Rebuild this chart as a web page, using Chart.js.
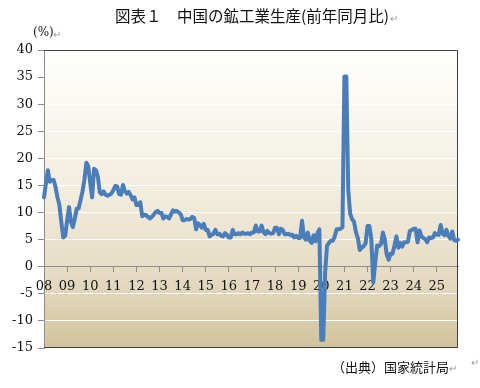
<!DOCTYPE html>
<html>
<head>
<meta charset="utf-8">
<script src="https://cdn.jsdelivr.net/npm/chart.js@4/dist/chart.umd.min.js"></script>
<style>
  html, body { margin: 0; padding: 0; background: #fff; }
  #wrap { position: relative; width: 480px; height: 388px; }
</style>
</head>
<body>
<div id="wrap"><canvas id="c" width="480" height="388"></canvas></div>
<script>
// year tick labels (one per January)
const yearLabels = ['08', '09', '10', '11', '12', '13', '14', '15', '16',
  '17', '18', '19', '20', '21', '22', '23', '24', '25'];

// industrial production, % y/y, monthly Jan 2008 - Dec 2025
const ipYoY = [
  12.8, 15.4, 17.8, 15.7, 16.0, 16.0, 14.7, 12.8, 11.4, 8.2, 5.4, 5.7,     // 08
  8.5, 11.0, 8.3, 7.3, 8.9, 10.7, 10.8, 12.3, 13.9, 16.1, 19.2, 18.5,     // 09
  15.5, 12.8, 18.1, 17.8, 16.5, 13.7, 13.4, 13.9, 13.3, 13.1, 13.3, 13.5, // 10
  14.1, 14.9, 14.8, 13.4, 13.3, 15.1, 14.0, 13.5, 13.8, 13.2, 12.4, 12.8, // 11
  11.4, 11.4, 11.9, 9.3, 9.6, 9.5, 9.2, 8.9, 9.2, 9.6, 10.1, 10.3,        // 12
  9.9, 9.9, 8.9, 9.3, 9.2, 8.9, 9.7, 10.4, 10.2, 10.3, 10.0, 9.7,         // 13
  8.6, 8.6, 8.8, 8.7, 8.8, 9.2, 9.0, 6.9, 8.0, 7.7, 7.2, 7.9,             // 14
  6.8, 6.8, 5.6, 5.9, 6.1, 6.8, 6.0, 6.1, 5.7, 5.6, 6.2, 5.9,             // 15
  5.4, 5.4, 6.8, 6.0, 6.0, 6.2, 6.0, 6.3, 6.1, 6.1, 6.2, 6.0,             // 16
  6.3, 6.3, 7.6, 6.5, 6.5, 7.6, 6.4, 6.0, 6.6, 6.2, 6.1, 6.2,             // 17
  7.2, 7.2, 6.0, 7.0, 6.8, 6.0, 6.0, 6.1, 5.8, 5.9, 5.4, 5.7,             // 18
  5.3, 5.3, 8.5, 5.4, 5.0, 6.3, 4.8, 4.4, 5.8, 4.7, 6.2, 6.9,             // 19
  -13.5, -13.5, -1.1, 3.9, 4.4, 4.8, 4.8, 5.6, 6.9, 6.9, 7.0, 7.3,       // 20
  35.1, 35.1, 14.1, 9.8, 8.8, 8.3, 6.4, 5.3, 3.1, 3.5, 3.8, 4.3,         // 21
  7.5, 7.5, 5.0, -2.9, 0.7, 3.9, 3.8, 4.2, 6.3, 5.0, 2.2, 1.3,           // 22
  2.4, 2.4, 3.9, 5.6, 3.5, 4.4, 3.7, 4.5, 4.5, 4.6, 6.6, 6.8,            // 23
  7.0, 7.0, 4.5, 6.7, 5.6, 5.3, 5.1, 4.5, 5.4, 5.3, 5.4, 6.2,            // 24
  5.9, 5.9, 7.7, 6.1, 5.8, 6.8, 5.7, 5.2, 6.5, 4.9, 4.8, 5.0             // 25
];

const yMin = -15, yMax = 40, yStep = 5;

// monthly categories, e.g. "08-01"
const months = [];
yearLabels.forEach(y => {
  for (let m = 1; m <= 12; m++) months.push(y + '-' + String(m).padStart(2, '0'));
});

const serif = "'DejaVu Serif', 'Liberation Serif', serif";
const jp = "'Noto Sans CJK JP', sans-serif";
const axisGray = '#8c8c8c';

// plot area background + frame
const plotBg = {
  id: 'plotBg',
  beforeDraw(chart) {
    const { ctx, chartArea: a } = chart;
    const g = ctx.createLinearGradient(0, a.top, 0, a.bottom);
    g.addColorStop(0, '#fffffd');
    g.addColorStop(0.45, '#f3eee0');
    g.addColorStop(0.75, '#e6dcc4');
    g.addColorStop(1, '#d2c39c');
    ctx.save();
    ctx.fillStyle = g;
    ctx.fillRect(a.left, a.top, a.right - a.left, a.bottom - a.top);
    ctx.restore();
  },
  beforeDatasetsDraw(chart) {
    const { ctx, chartArea: a } = chart;
    ctx.save();
    ctx.strokeStyle = '#404040';
    ctx.lineWidth = 1;
    ctx.beginPath();
    ctx.moveTo(a.left, a.top + 0.5);
    ctx.lineTo(a.right - 0.5, a.top + 0.5);
    ctx.lineTo(a.right - 0.5, a.bottom - 0.5);
    ctx.lineTo(a.left, a.bottom - 0.5);
    ctx.stroke();
    ctx.restore();
  }
};

// title, unit and source notes
const notes = {
  id: 'notes',
  afterDraw(chart) {
    const { ctx } = chart;
    ctx.save();
    ctx.fillStyle = '#111';
    ctx.textBaseline = 'middle';

    ctx.font = '15.5px ' + jp;
    ctx.textAlign = 'center';
    const title = '図表１　中国の鉱工業生産(前年同月比)';
    ctx.fillText(title, 252, 16);
    const tw = ctx.measureText(title).width;

    ctx.font = '12px ' + serif;
    ctx.textAlign = 'left';
    ctx.fillText('(%)', 33, 33);

    ctx.font = '13px ' + jp;
    ctx.textAlign = 'right';
    ctx.fillText('（出典）国家統計局', 449, 367);

    // paragraph marks
    ctx.fillStyle = '#9a9a9a';
    ctx.font = '10px ' + jp;
    ctx.textAlign = 'left';
    ctx.fillText('↵', 252 + tw / 2 + 1, 18);
    ctx.fillText('↵', 53, 34);
    ctx.fillText('↵', 449, 368);
    ctx.fillText('↵', 471, 362);
    ctx.restore();
  }
};

new Chart(document.getElementById('c'), {
  type: 'line',
  data: {
    labels: months,
    datasets: [{
      data: ipYoY,
      borderColor: '#4a7ebb',
      borderWidth: 4,
      pointRadius: 0,
      tension: 0,
      borderJoinStyle: 'round',
      borderCapStyle: 'round'
    }]
  },
  options: {
    responsive: false,
    animation: false,
    layout: { padding: { top: 50, right: 22, bottom: 40, left: 0 } },
    plugins: {
      legend: { display: false },
      title: { display: false },
      tooltip: { enabled: false }
    },
    scales: {
      x: {
        type: 'category',
        position: { y: 0 },
        offset: false,
        afterFit(s) { s.height = 0; },
        border: { color: axisGray, width: 1 },
        grid: {
          drawOnChartArea: false,
          drawTicks: true,
          tickLength: 5,
          tickColor: c => (c.index % 12 === 0 ? axisGray : 'rgba(0,0,0,0)')
        },
        ticks: {
          autoSkip: false,
          maxRotation: 0,
          minRotation: 0,
          padding: 7,
          color: '#111',
          font: { family: serif, size: 13 },
          callback: (v, i) => (i % 12 === 0 ? yearLabels[i / 12] : '')
        }
      },
      y: {
        min: yMin,
        max: yMax,
        afterFit(s) { s.width = 44; },
        border: { color: axisGray, width: 1 },
        grid: {
          color: '#ffffff',
          lineWidth: 1,
          tickLength: 6,
          tickColor: axisGray
        },
        ticks: {
          stepSize: yStep,
          padding: 5,
          color: '#111',
          font: { family: serif, size: 13 }
        }
      }
    }
  },
  plugins: [plotBg, notes]
});
</script>
</body>
</html>
